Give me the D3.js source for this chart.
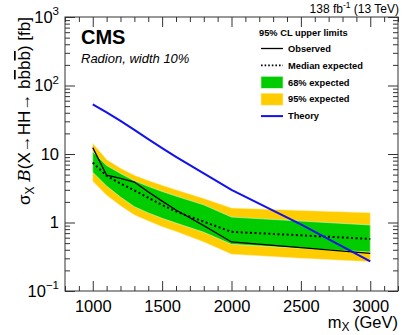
<!DOCTYPE html>
<html>
<head>
<meta charset="utf-8">
<script src="https://cdn.jsdelivr.net/npm/d3@7"></script>
<style>
  body { margin: 0; background: #fff; }
  svg { display: block; font-family: "Liberation Sans", Arial, sans-serif; }
</style>
</head>
<body>
<div class="graph"></div>
<script>
const w = 407;
const h = 335;
const margin = {top: 17, right: 9, bottom: 44, left: 65};

// mass points (GeV) and limits (fb)
const masses   = [1000, 1100, 1200, 1300, 1400, 1500, 1600, 1800, 2000, 2500, 3000];
const observed = [12.4, 4.9, 4.4, 3.9, 2.8, 2.05, 1.52, 0.9, 0.52, 0.43, 0.355];
const expected = [7.5, 4.8, 3.7, 2.95, 2.3, 1.8, 1.45, 1.03, 0.73, 0.65, 0.574];
const exp68Lo  = [5.4, 3.4, 2.35, 1.7, 1.38, 1.15, 0.98, 0.72, 0.48, 0.42, 0.37];
const exp68Hi  = [10.8, 6.8, 5.2, 4.07, 3.37, 2.84, 2.43, 1.81, 1.2, 1.05, 0.92];
const exp95Lo  = [4.0, 2.5, 1.75, 1.29, 1.05, 0.87, 0.74, 0.52, 0.345, 0.30, 0.268];
const exp95Hi  = [14.3, 8.3, 6.2, 4.9, 4.1, 3.5, 3.0, 2.25, 1.63, 1.5, 1.39];
const theory   = [53, 40.5, 30.5, 22.5, 16.5, 12.2, 9.1, 5.2, 3.0, 0.94, 0.27];

const xTicks = [1000, 1500, 2000, 2500, 3000];
const yTicks = [0.1, 1, 10, 100, 1000];
const yTickLabels = [["10", "\u22121"], ["1", ""], ["10", ""], ["10", "2"], ["10", "3"]];

const legendItems = [
  {label: "Observed", type: "solid"},
  {label: "Median expected", type: "dotted"},
  {label: "68% expected", type: "green"},
  {label: "95% expected", type: "yellow"},
  {label: "Theory", type: "theory"}
];

const green = "#00cc00";
const yellow = "#ffcc00";
const blue = "#1010f0";

const x = d3.scaleLinear().domain([800, 3200]).range([margin.left, w - margin.right]);
const y = d3.scaleLog().domain([0.1, 1000]).range([h - margin.bottom, margin.top]);

const svg = d3.select(".graph").append("svg").attr("width", w).attr("height", h);

const rows = masses.map((m, i) => ({
  m: m, obs: observed[i], exp: expected[i],
  lo68: exp68Lo[i], hi68: exp68Hi[i], lo95: exp95Lo[i], hi95: exp95Hi[i], th: theory[i]
}));

// bands
svg.append("path").datum(rows)
   .attr("fill", yellow)
   .attr("stroke", "#fff0b0").attr("stroke-width", 0.5)
   .attr("d", d3.area().x(d => x(d.m)).y0(d => y(d.lo95)).y1(d => y(d.hi95)));
svg.append("path").datum(rows)
   .attr("fill", green)
   .attr("stroke", "#d8f8d0").attr("stroke-width", 0.6)
   .attr("d", d3.area().x(d => x(d.m)).y0(d => y(d.lo68)).y1(d => y(d.hi68)));

// lines
svg.append("path").datum(rows)
   .attr("fill", "none").attr("stroke", "#000").attr("stroke-width", 2)
   .attr("stroke-dasharray", "2,2.6")
   .attr("d", d3.line().x(d => x(d.m)).y(d => y(d.exp)));
svg.append("path").datum(rows)
   .attr("fill", "none").attr("stroke", "#000").attr("stroke-width", 1.3)
   .attr("d", d3.line().x(d => x(d.m)).y(d => y(d.obs)));
svg.append("path").datum(rows)
   .attr("fill", "none").attr("stroke", blue).attr("stroke-width", 2)
   .attr("d", d3.line().x(d => x(d.m)).y(d => y(d.th)));

// axes (ROOT style, ticks inside, mirrored)
const axisColor = "#333";
const minorX = d3.range(800, 3201, 100).filter(v => xTicks.indexOf(v) < 0);
const minorY = [];
[0.1, 1, 10, 100].forEach(dec => { for (let k = 2; k <= 9; k++) minorY.push(dec * k); });

function styleAxis(g) {
  g.select(".domain").remove();
  g.selectAll("line").attr("stroke", axisColor);
}

svg.append("g").attr("transform", `translate(0,${h - margin.bottom})`)
   .call(d3.axisBottom(x).tickValues(xTicks).tickSize(-10).tickPadding(9).tickFormat(d3.format("d")))
   .call(styleAxis)
   .call(g => g.selectAll("text").attr("font-size", 16.5).attr("fill", "#000")
                 .attr("font-family", "Liberation Sans, Arial, sans-serif"));
svg.append("g").attr("transform", `translate(0,${h - margin.bottom})`)
   .call(d3.axisBottom(x).tickValues(minorX).tickSize(-5).tickFormat(""))
   .call(styleAxis);
svg.append("g").attr("transform", `translate(0,${margin.top})`)
   .call(d3.axisTop(x).tickValues(xTicks).tickSize(-10).tickFormat(""))
   .call(styleAxis);
svg.append("g").attr("transform", `translate(0,${margin.top})`)
   .call(d3.axisTop(x).tickValues(minorX).tickSize(-5).tickFormat(""))
   .call(styleAxis);

svg.append("g").attr("transform", `translate(${margin.left},0)`)
   .call(d3.axisLeft(y).tickValues(yTicks).tickSize(-10).tickFormat(""))
   .call(styleAxis);
svg.append("g").attr("transform", `translate(${margin.left},0)`)
   .call(d3.axisLeft(y).tickValues(minorY).tickSize(-5).tickFormat(""))
   .call(styleAxis);
svg.append("g").attr("transform", `translate(${w - margin.right},0)`)
   .call(d3.axisRight(y).tickValues(yTicks).tickSize(-10).tickFormat(""))
   .call(styleAxis);
svg.append("g").attr("transform", `translate(${w - margin.right},0)`)
   .call(d3.axisRight(y).tickValues(minorY).tickSize(-5).tickFormat(""))
   .call(styleAxis);

// frame
svg.append("rect")
   .attr("x", margin.left).attr("y", margin.top)
   .attr("width", w - margin.left - margin.right)
   .attr("height", h - margin.top - margin.bottom)
   .attr("fill", "none").attr("stroke", axisColor).attr("stroke-width", 1);

// y tick labels with superscripts
const yl = svg.append("g").selectAll("text")
  .data(yTicks.map((v, i) => ({v: v, base: yTickLabels[i][0], sup: yTickLabels[i][1]})))
  .enter().append("text")
  .attr("x", margin.left - 6)
  .attr("y", d => y(d.v))
  .attr("dy", "0.36em")
  .attr("text-anchor", "end")
  .attr("font-size", 16.5);
yl.append("tspan").text(d => d.base);
yl.filter(d => d.sup !== "").append("tspan")
  .attr("font-size", 11.5).attr("dy", "-0.65em").text(d => d.sup);

// axis titles
const xt = svg.append("text")
   .attr("x", w - margin.right).attr("y", 328)
   .attr("text-anchor", "end").attr("font-size", 16.5);
xt.append("tspan").text("m");
xt.append("tspan").attr("font-size", 12).attr("dy", 3).text("X");
xt.append("tspan").attr("dy", -3).text(" (GeV)");

const yt = svg.append("text")
   .attr("transform", `translate(30,${margin.top}) rotate(-90)`)
   .attr("text-anchor", "end").attr("font-size", 17);
yt.append("tspan").text("\u03c3");
yt.append("tspan").attr("font-size", 12).attr("dy", 4).text("X");
yt.append("tspan").attr("dy", -4).text(" ");
yt.append("tspan").attr("font-family", "DejaVu Serif, serif").attr("font-style", "italic").text("B");
yt.append("tspan").text("(X\u2192HH\u2192 b");
yt.append("tspan").attr("text-decoration", "overline").text("b");
yt.append("tspan").text("b");
yt.append("tspan").attr("text-decoration", "overline").text("b");
yt.append("tspan").text(") [fb]");

// header texts
const lumi = svg.append("text")
   .attr("x", w - margin.right + 1).attr("y", 13)
   .attr("text-anchor", "end").attr("font-size", 12);
lumi.append("tspan").text("138 fb");
lumi.append("tspan").attr("font-size", 8.5).attr("dy", -5).text("-1");
lumi.append("tspan").attr("dy", 5).text(" (13 TeV)");

svg.append("text").attr("x", 81).attr("y", 44)
   .attr("font-size", 20).attr("font-weight", "bold").text("CMS");
svg.append("text").attr("x", 81).attr("y", 63)
   .attr("font-size", 13).attr("font-style", "italic").text("Radion, width 10%");

// legend
const legend = svg.append("g").attr("transform", "translate(261,0)");
legend.append("text").attr("x", -2).attr("y", 36)
      .attr("font-size", 9.3).attr("font-weight", "bold").text("95% CL upper limits");

const li = legend.selectAll("g.item").data(legendItems).enter().append("g")
      .attr("class", "item")
      .attr("transform", (d, i) => `translate(0,${48.5 + i * 16.9})`);
li.append("text").attr("x", 27).attr("dy", "0.35em")
  .attr("font-size", 9.3).attr("font-weight", "bold").text(d => d.label);
li.filter(d => d.type === "green" || d.type === "yellow").append("rect")
  .attr("x", 0).attr("y", -6).attr("width", 22).attr("height", 12)
  .attr("fill", d => d.type === "green" ? green : yellow)
  .attr("stroke", d => d.type === "green" ? "#d8f8d0" : "#fff0b0").attr("stroke-width", 0.6);
li.filter(d => d.type === "solid").append("line")
  .attr("x1", 0).attr("x2", 22).attr("stroke", "#000").attr("stroke-width", 1.3);
li.filter(d => d.type === "dotted").append("line")
  .attr("x1", 0).attr("x2", 22).attr("stroke", "#000").attr("stroke-width", 1.6)
  .attr("stroke-dasharray", "1.6,2");
li.filter(d => d.type === "theory").append("line")
  .attr("x1", 0).attr("x2", 22).attr("stroke", blue).attr("stroke-width", 2);
</script>
</body>
</html>
